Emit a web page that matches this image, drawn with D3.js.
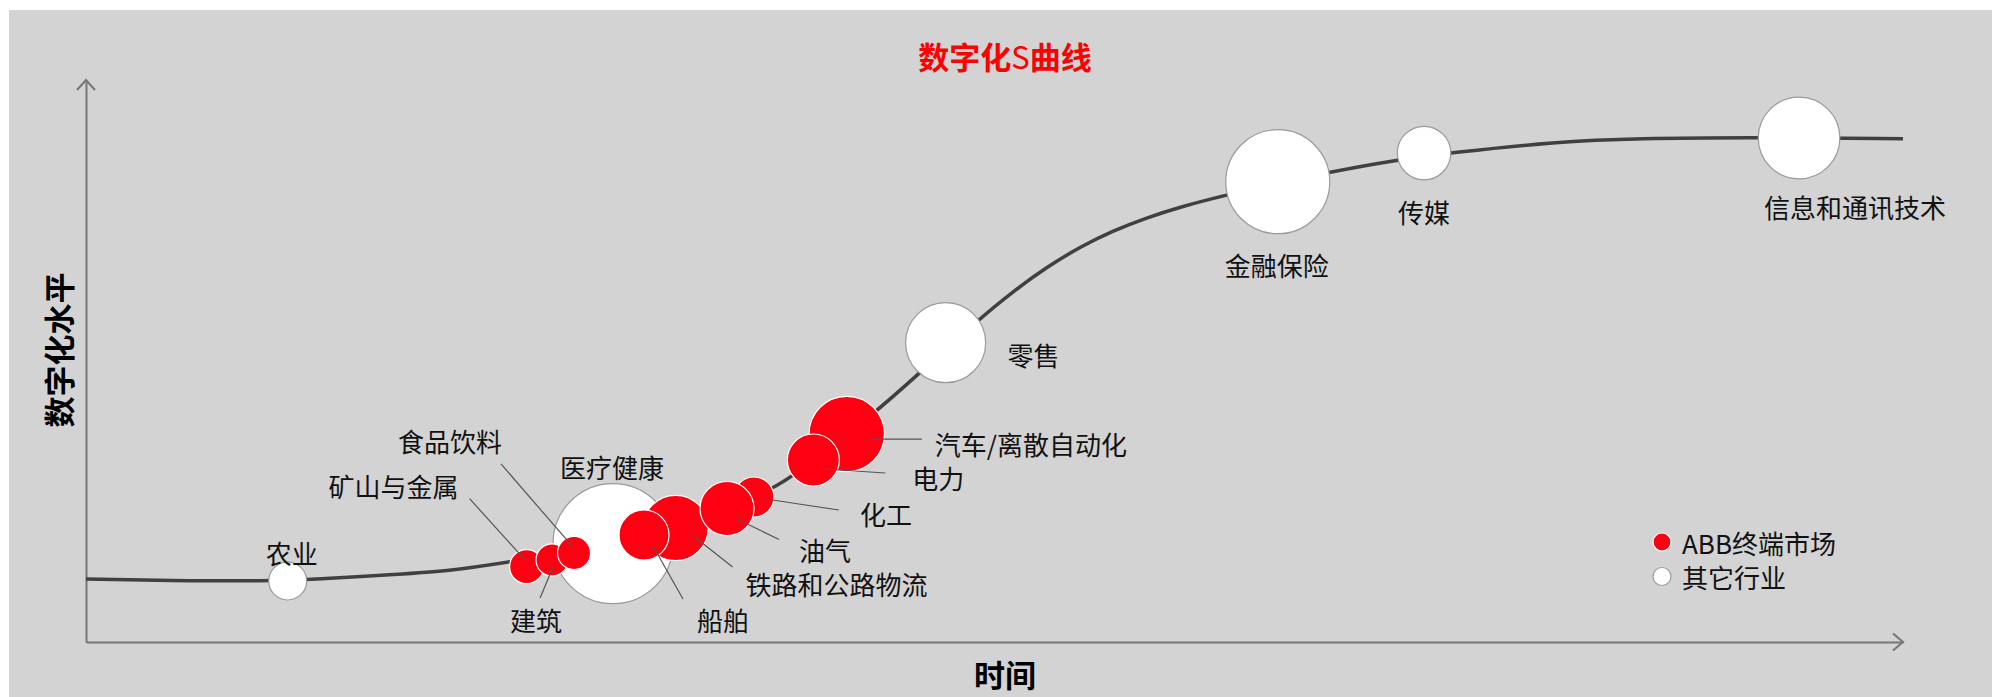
<!DOCTYPE html>
<html>
<head>
<meta charset="utf-8">
<script src="https://cdn.jsdelivr.net/npm/d3@7/dist/d3.min.js"></script>
<style>
  html, body { margin: 0; padding: 0; background: #fff; }
  svg text { font-family: "Noto Sans CJK SC", "Noto Sans", sans-serif; }
</style>
</head>
<body>
<div id="chart"></div>
<script>
// industries, drawn in this order (later ones sit on top)
var industries = ['农业', '医疗健康', '矿山与金属', '建筑', '食品饮料', '铁路和公路物流', '船舶',
                  '化工', '油气', '汽车/离散自动化', '电力', '零售', '金融保险', '传媒', '信息和通讯技术'];
var timeValues  = [11.1, 29.0, 24.25, 25.65, 26.86, 32.45, 30.71, 36.76, 35.28, 41.87, 40.03, 47.31, 65.59, 73.64, 94.28];
var levelValues = [10.85, 17.5, 13.4, 14.6, 15.84, 20.28, 19.04, 25.8, 23.75, 37.0, 32.38, 53.26, 81.9, 87.0, 89.68];
var marketSize  = [13.3, 133, 10.7, 9.5, 10.1, 39.5, 23.1, 14.8, 27, 52.6, 25, 59.2, 100, 26.4, 61.6];
var isAbb       = [false, false, true, true, true, true, true, true, true, true, true, false, false, false, false];

// the S curve itself
var curveTime  = [0, 4.62, 10.02, 12.22, 17.39, 19.81, 23.28, 27.78, 29.32, 32.42, 35.28, 37.83, 38.84, 43.52,
                  45.81, 49.2, 51.03, 52.87, 54.71, 56.54, 58.38, 60.21, 62.78, 68.46, 72.15, 75.11, 80.94,
                  85.34, 92.02, 100];
var curveLevel = [11.21, 10.91, 10.85, 11.09, 12.1, 12.58, 14.18, 16.67, 17.85, 20.46, 23.84, 27.35, 29.31, 40.98,
                  47.69, 57.6, 62.4, 66.7, 70.3, 73.2, 75.5, 77.4, 79.6, 83.68, 85.77, 87.06, 89.02,
                  89.63, 89.8, 89.56];

var legendLabels = ['ABB终端市场', '其它行业'];

// label placement relative to the bubble centre (px); lead = leader line [x1,y1,x2,y2]
var labelPos = {
  '农业':           { a: 'middle', dx: 4,    dy: -29 },
  '矿山与金属':     { a: 'middle', dx: -133, dy: -81,  lead: [-57, -68, -1, -6] },
  '建筑':           { a: 'middle', dx: -16,  dy: 60,   lead: [-12, 38, 1, 7] },
  '食品饮料':       { a: 'middle', dx: -124, dy: -112, lead: [-73, -89, -2, -7] },
  '医疗健康':       { a: 'middle', dx: -1,   dy: -77 },
  '船舶':           { a: 'middle', dx: 79,   dy: 85,   lead: [9, 11, 39, 64] },
  '铁路和公路物流': { a: 'start',  dx: 70,   dy: 55,   lead: [19, 9, 57, 39] },
  '油气':           { a: 'start',  dx: 72,   dy: 41,   lead: [11, 11, 52, 31] },
  '化工':           { a: 'start',  dx: 106,  dy: 16,   lead: [12, 2, 85, 13] },
  '电力':           { a: 'start',  dx: 99,   dy: 17,   lead: [11, 9, 72, 13] },
  '汽车/离散自动化':{ a: 'start',  dx: 88,   dy: 9,    lead: [23, 5, 75, 5] },
  '零售':           { a: 'start',  dx: 62,   dy: 12 },
  '金融保险':       { a: 'middle', dx: -1,   dy: 83 },
  '传媒':           { a: 'middle', dx: 0,    dy: 58 },
  '信息和通讯技术': { a: 'middle', dx: 56,   dy: 69 }
};

var W = 1992, H = 697;
var RED = '#ff0012', AXIS = '#767676';

var svg = d3.select('#chart').append('svg')
  .attr('width', W).attr('height', H);

svg.append('rect').attr('x', 9).attr('y', 10)
  .attr('width', W - 9).attr('height', H - 10).attr('fill', '#d3d3d3');

var x = d3.scaleLinear().domain([0, 100]).range([86, 1903]);
var y = d3.scaleLinear().domain([0, 100]).range([642, 80]);
var r = d3.scaleSqrt().domain([0, 100]).range([0, 52]);

// axes: only the domain lines, arrows at the ends
svg.append('g').attr('transform', 'translate(0,' + y(0) + ')')
  .call(d3.axisBottom(x).ticks(0).tickSizeOuter(0))
  .call(function(g) { g.select('.domain').attr('stroke', AXIS).attr('stroke-width', 2); });
svg.append('g').attr('transform', 'translate(' + x(0) + ',0)')
  .call(d3.axisLeft(y).ticks(0).tickSizeOuter(0))
  .call(function(g) { g.select('.domain').attr('stroke', AXIS).attr('stroke-width', 2); });

svg.append('path')
  .attr('d', 'M' + (x(100) - 10) + ',' + (y(0) - 8.5) + 'L' + x(100) + ',' + y(0) + 'L' + (x(100) - 10) + ',' + (y(0) + 8.5))
  .attr('fill', 'none').attr('stroke', AXIS).attr('stroke-width', 2);
svg.append('path')
  .attr('d', 'M' + (x(0) - 9) + ',' + (y(100) + 10) + 'L' + x(0) + ',' + y(100) + 'L' + (x(0) + 9) + ',' + (y(100) + 10))
  .attr('fill', 'none').attr('stroke', AXIS).attr('stroke-width', 2);

// titles
svg.append('text').attr('x', 1005).attr('y', 55)
  .attr('text-anchor', 'middle').attr('dominant-baseline', 'central')
  .attr('fill', '#ff0000').attr('font-size', 31).attr('font-weight', 'bold')
  .html('数字化<tspan font-weight="normal">S</tspan>曲线');

svg.append('text').attr('x', 1005).attr('y', 673)
  .attr('text-anchor', 'middle').attr('dominant-baseline', 'central')
  .attr('font-size', 31).attr('font-weight', 'bold').attr('fill', '#000')
  .text('时间');

svg.append('text')
  .attr('transform', 'translate(57,350) rotate(-90)')
  .attr('text-anchor', 'middle').attr('dominant-baseline', 'central')
  .attr('font-size', 31).attr('font-weight', 'bold').attr('fill', '#000')
  .text('数字化水平');

// S curve
var curvePts = curveTime.map(function(t, i) { return [t, curveLevel[i]]; });
svg.append('path')
  .datum(curvePts)
  .attr('d', d3.line().x(function(d) { return x(d[0]); }).y(function(d) { return y(d[1]); })
    .curve(d3.curveBasis))
  .attr('fill', 'none').attr('stroke', '#404040').attr('stroke-width', 3.5);

var data = industries.map(function(name, i) {
  return { name: name, t: timeValues[i], v: levelValues[i], s: marketSize[i], abb: isAbb[i] };
});

svg.append('g').selectAll('circle')
  .data(data).join('circle')
  .attr('cx', function(d) { return x(d.t); })
  .attr('cy', function(d) { return y(d.v); })
  .attr('r', function(d) { return r(d.s); })
  .attr('fill', function(d) { return d.abb ? RED : '#fff'; })
  .attr('stroke', function(d) { return d.abb ? '#fff' : '#9a9a9a'; })
  .attr('stroke-width', 1.2);

// leader lines
svg.append('g').selectAll('line')
  .data(data.filter(function(d) { return labelPos[d.name].lead; }))
  .join('line')
  .attr('x1', function(d) { return x(d.t) + labelPos[d.name].lead[0]; })
  .attr('y1', function(d) { return y(d.v) + labelPos[d.name].lead[1]; })
  .attr('x2', function(d) { return x(d.t) + labelPos[d.name].lead[2]; })
  .attr('y2', function(d) { return y(d.v) + labelPos[d.name].lead[3]; })
  .attr('stroke', '#555').attr('stroke-width', 1.2);

svg.append('g').selectAll('text')
  .data(data).join('text')
  .attr('x', function(d) { return x(d.t) + labelPos[d.name].dx; })
  .attr('y', function(d) { return y(d.v) + labelPos[d.name].dy; })
  .attr('text-anchor', function(d) { return labelPos[d.name].a; })
  .attr('dominant-baseline', 'central')
  .attr('font-size', 26).attr('fill', '#111')
  .text(function(d) { return d.name; });

// legend
var legend = svg.append('g').attr('transform', 'translate(1662,542)');
legendLabels.forEach(function(lbl, i) {
  var row = legend.append('g').attr('transform', 'translate(0,' + (i * 34.5) + ')');
  row.append('circle').attr('r', 9)
    .attr('fill', i === 0 ? RED : '#fff')
    .attr('stroke', i === 0 ? '#fff' : '#9a9a9a').attr('stroke-width', 1.2);
  row.append('text').attr('x', 20).attr('y', 0)
    .attr('dominant-baseline', 'central')
    .attr('font-size', 26).attr('fill', '#111')
    .text(lbl);
});
</script>
</body>
</html>
